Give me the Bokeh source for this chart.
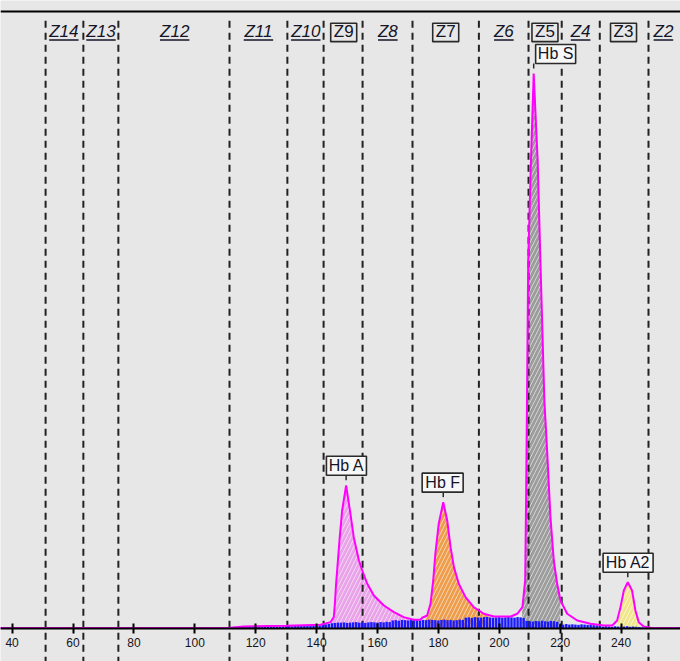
import numpy as np
from bokeh.plotting import figure
from bokeh.models import Range1d, LinearAxis, SingleIntervalTicker, Span
from bokeh.core.properties import value
from bokeh.embed import file_html
from bokeh.resources import INLINE

# ---------------- data ----------------
trace_x = [36.0, 111.0, 116.1, 130.0, 141.3, 144.6, 145.65, 146.0, 146.4, 147.0, 147.6, 148.4, 149.7,
           151.1, 152.2, 153.9, 155.0, 156.6, 158.8, 162.1, 165.4, 168.6, 171.9, 174.1,
           174.7, 176.3, 177.4, 178.3, 179.0, 180.1, 181.6, 182.9, 184.0, 185.1, 186.7, 188.9,
           191.6, 194.9, 198.2, 203.8, 205.9, 207.6, 208.5, 208.8, 209.1, 209.5, 210.3, 211.3,
           212.6, 213.5, 214.8, 215.7, 216.8, 217.9, 219.0, 220.1, 222.3, 225.6, 230.0, 234.3,
           237.1, 238.7, 239.8, 240.9, 242.2, 243.6, 244.7, 245.8, 247.4, 250.0, 260.0]
trace_y = [0.1, 0.1, 0.36, 0.5, 0.66, 1.14, 2.04, 4.45, 8.05, 12.25, 16.45, 21.3, 25.8,
           20.7, 16.45, 12.25, 10.45, 8.1, 5.95, 4.14, 2.94, 2.04, 1.57, 1.57,
           1.93, 2.34, 4.45, 8.65, 13.46, 18.86, 22.76, 19.46, 14.65, 11.05, 8.05, 5.64,
           3.84, 2.65, 2.16, 2.16, 2.65, 3.84, 8.65, 23.1, 41.1, 66.3, 82.5, 100.0,
           84.3, 66.3, 41.1, 32.1, 20.05, 12.25, 8.05, 5.05, 2.65, 1.44, 0.85, 0.54,
           0.54, 1.44, 3.84, 6.85, 8.34, 6.85, 3.24, 1.14, 0.36, 0.1, 0.1]

zone_bounds = [51.0, 63.4, 74.9, 111.4, 130.4, 142.3, 155.1, 171.5, 193.3, 209.6, 220.5, 233.0, 249.0]
zone_names = ["Z14", "Z13", "Z12", "Z11", "Z10", "Z9", "Z8", "Z7", "Z6", "Z5", "Z4", "Z3", "Z2"]
zone_boxed = [False, False, False, False, False, True, False, True, False, True, False, True, False]
zone_label_x = [57.0, 69.2, 93.4, 120.9, 136.45, 148.9, 163.4, 182.4, 201.5, 215.0, 226.7, 240.8, 253.9]

peak_names = ["Hb A", "Hb F", "Hb S", "Hb A2"]
peak_x = [149.7, 181.6, 211.3, 242.2]
peak_y = [25.8, 22.76, 100.0, 8.34]
peak_start = [145.1, 175.8, 207.5, 238.9]
peak_end = [171.0, 196.5, 220.0, 245.8]
peak_label_x = [149.8, 181.4, 218.5, 242.3]

noise_x = list(range(112, 248))
noise_y = ([0.25, 0.3, 0.2, 0.35, 0.3, 0.25, 0.35, 0.3, 0.4, 0.3, 0.25, 0.35, 0.3, 0.4, 0.35, 0.3, 0.35, 0.4] +
           [0.4, 0.45, 0.4, 0.5, 0.45, 0.5, 0.55, 0.5, 0.45, 0.55, 0.6, 0.55, 0.65] +
           [0.75, 0.85, 0.95, 1.0, 1.05] +
           [1.05, 1.1, 1.0, 1.05, 1.1, 1.15, 1.05, 1.1, 1.0, 1.1, 1.15, 1.1, 1.05, 1.15, 1.1, 1.2, 1.15] +
           [1.45, 1.5, 1.4, 1.55, 1.5, 1.45, 1.55, 1.6, 1.5, 1.45, 1.55, 1.5, 1.6, 1.55, 1.5, 1.45, 1.55, 1.6,
            1.5, 1.55, 1.45, 1.5, 1.6, 1.55] +
           [1.95, 2.0, 1.9, 2.05, 2.0, 1.95, 2.05, 2.1, 2.0, 1.95, 2.0, 2.05, 1.95, 2.0, 2.1, 2.0, 1.95, 2.05, 2.0, 1.9] +
           [1.35, 1.3, 1.25, 1.35, 1.3, 1.4, 1.3, 1.25, 1.35, 1.3, 1.2] +
           [0.75, 0.7, 0.8, 0.7, 0.75, 0.7, 0.65, 0.75, 0.7, 0.65, 0.7, 0.6, 0.55] +
           [0.4, 0.35, 0.4, 0.35, 0.3, 0.4, 0.35, 0.3, 0.35, 0.4, 0.3, 0.35, 0.3, 0.25, 0.2])

tick_interval = 20

# ---------------- styles / layout ----------------
BG = "#e7e7e7"
TXT = "#141428"
peak_fill = ["#e9a3e8", "#ee9d4c", "#9c9c9c", "#f0e68c"]
PXY = 5.55   # screen px per y unit
PXX = 3.045  # screen px per x unit

W, H = 680, 661
p = figure(width=W, height=H, output_backend="svg", toolbar_location=None,
           x_range=Range1d(36.19, 259.51), y_range=Range1d(-5.95, 113.15),
           x_axis_location=None, y_axis_location=None, min_border=0,
           background_fill_color=BG, border_fill_color=BG, outline_line_color=None)
p.title.visible = False
p.grid.visible = False

# peak fills
for i in range(len(peak_names)):
    xs = [peak_start[i]] + [x for x in trace_x if peak_start[i] < x < peak_end[i]] + [peak_end[i]]
    ys = np.interp(xs, trace_x, trace_y)
    p.varea(x=xs, y1=np.zeros(len(xs)), y2=ys, fill_color=peak_fill[i],
            hatch_pattern="/", hatch_color="white", hatch_alpha=0.55, hatch_scale=8, hatch_weight=1)

# zone dashed lines
p.segment(x0=zone_bounds, y0=[109.5] * len(zone_bounds), x1=zone_bounds, y1=[-7] * len(zone_bounds),
          line_color="#222222", line_width=2, line_dash="7 5")

# noise bars
p.vbar(x=noise_x, top=noise_y, bottom=0, width=0.8, fill_color="#1a1aff", line_color=None)

# trace
p.line(trace_x, trace_y, line_color="#ff00ff", line_width=2)

# top rule
p.add_layout(Span(location=111.17, dimension="width", line_color="black", line_width=2))

# zone labels
lab_y = 107.53
ux0, ux1, bx = [], [], []
for name, x, boxed in zip(zone_names, zone_label_x, zone_boxed):
    if not boxed:
        half = len(name) * 9.8 / 2 / PXX
        ux0.append(x - half)
        ux1.append(x + half)
    else:
        bx.append(x)
p.rect(x=bx, y=[107.39] * len(bx), width=26, height=18.4, width_units="screen", height_units="screen",
       fill_color=BG, line_color="#2a2a2a", line_width=1.6)
p.segment(x0=ux0, y0=[106.04] * len(ux0), x1=ux1, y1=[106.04] * len(ux0), line_color=TXT, line_width=1.5)
ix = [x for x, b in zip(zone_label_x, zone_boxed) if not b]
it = [n for n, b in zip(zone_names, zone_boxed) if not b]
p.text(x=ix, y=[lab_y] * len(ix), text=it, text_font=value("Liberation Sans"), text_font_size="17px",
       text_font_style="italic", text_color=TXT, text_align="center", text_baseline="middle")
bt = [n for n, b in zip(zone_names, zone_boxed) if b]
p.text(x=bx, y=[lab_y] * len(bx), text=bt, text_font=value("Liberation Sans"), text_font_size="17px",
       text_color=TXT, text_align="center", text_baseline="middle")

# peak labels
box_w = [40, 41, 40, 50]
box_h = 19
box_cy = [py + 1.8 + (box_h / 2) / PXY for py in peak_y]
p.segment(x0=peak_x, y0=[py + 0.9 for py in peak_y], x1=peak_x, y1=[py + 1.8 for py in peak_y],
          line_color="#2a2a2a", line_width=1.5)
p.rect(x=peak_label_x, y=box_cy, width=box_w, height=box_h, width_units="screen", height_units="screen",
       fill_color="#f7f7f7", line_color="#2a2a2a", line_width=1.6)
p.text(x=peak_label_x, y=box_cy, text=peak_names, text_font=value("Liberation Sans"), text_font_size="16px",
       text_color=TXT, text_align="center", text_baseline="middle")

# x axis at baseline
ax = LinearAxis(fixed_location=0, ticker=SingleIntervalTicker(interval=tick_interval, num_minor_ticks=0))
ax.axis_line_color = "black"
ax.axis_line_width = 2
ax.major_tick_line_color = "black"
ax.major_tick_line_width = 2
ax.major_tick_in = 5
ax.major_tick_out = 5
ax.minor_tick_line_color = None
ax.major_label_standoff = 5
ax.major_label_text_font = "Liberation Sans"
ax.major_label_text_font_size = "12px"
ax.major_label_text_color = "#141420"
p.add_layout(ax, "below")

open("out.html", "w").write(file_html(p, INLINE))
